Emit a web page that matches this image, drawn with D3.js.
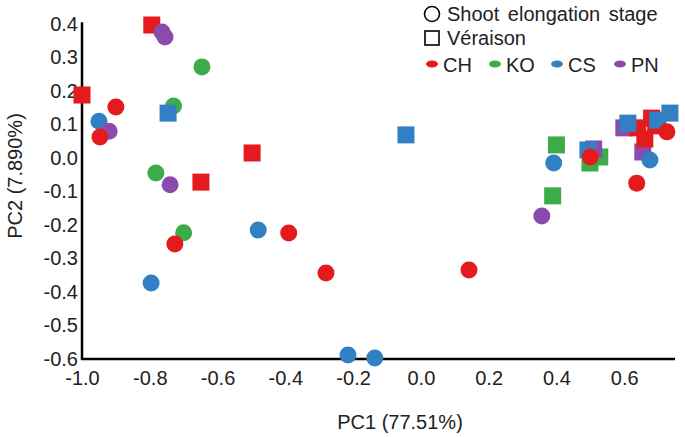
<!DOCTYPE html>
<html>
<head>
<meta charset="utf-8">
<script src="https://cdn.jsdelivr.net/npm/d3@7"></script>
<style>
  body { margin: 0; background: #fff; }
  svg { font-family: "Liberation Sans", Arial, sans-serif; }
</style>
</head>
<body>
<svg id="canvas"></svg>
<script>
"use strict";

// cultivars and colours
const cultivars = ['CH', 'KO', 'CS', 'PN'];
const colors = { CH: '#E41A1C', KO: '#3EAB4B', CS: '#3280C3', PN: '#8B4BAD' };

// shoot elongation stage (circles), [PC1, PC2]
const shootCH = [[-0.90, 0.152], [-0.947, 0.063], [-0.726, -0.257], [-0.39, -0.224], [-0.28, -0.343],
                 [0.142, -0.334], [0.50, 0.003], [0.637, -0.075], [0.726, 0.078]];
const shootKO = [[-0.646, 0.272], [-0.73, 0.155], [-0.782, -0.045], [-0.70, -0.223]];
const shootCS = [[-0.95, 0.11], [-0.48, -0.215], [-0.796, -0.373], [-0.215, -0.588], [-0.136, -0.597],
                 [0.392, -0.015], [0.676, -0.006]];
const shootPN = [[-0.764, 0.376], [-0.755, 0.361], [-0.92, 0.08], [-0.74, -0.08], [0.357, -0.173]];

// veraison (squares)
const verCH = [[-1.0, 0.188], [-0.794, 0.397], [-0.498, 0.015], [-0.649, -0.072],
               [0.640, 0.090], [0.661, 0.057], [0.681, 0.119], [0.693, 0.096]];
const verKO = [[0.40, 0.039], [0.389, -0.113], [0.528, 0.003], [0.499, -0.015]];
const verCS = [[-0.746, 0.134], [-0.044, 0.069], [0.493, 0.024], [0.611, 0.104], [0.699, 0.113], [0.735, 0.134]];
const verPN = [[0.510, 0.027], [0.655, 0.018], [0.599, 0.09]];

const xTicks = [-1.0, -0.8, -0.6, -0.4, -0.2, 0.0, 0.2, 0.4, 0.6];
const yTicks = [0.4, 0.3, 0.2, 0.1, 0.0, -0.1, -0.2, -0.3, -0.4, -0.5, -0.6];

let width = 685;
let height = 437;

let canvas = d3.select('#canvas')
    .attr('width', width)
    .attr('height', height);

let xScale = d3.scaleLinear()
    .domain([-1.0, 0.75])
    .range([82, 675]);

let yScale = d3.scaleLinear()
    .domain([-0.6, 0.4])
    .range([359, 24]);

// draw order matters where markers overlap
const layers = [
    { shape: 'circle', cult: 'KO', pts: shootKO },
    { shape: 'square', cult: 'KO', pts: verKO },
    { shape: 'square', cult: 'PN', pts: verPN },
    { shape: 'square', cult: 'CH', pts: verCH },
    { shape: 'square', cult: 'CS', pts: verCS },
    { shape: 'circle', cult: 'CS', pts: shootCS },
    { shape: 'circle', cult: 'PN', pts: shootPN },
    { shape: 'circle', cult: 'CH', pts: shootCH }
];

// plain hyphen, like the original
const fmt = (d) => d.toFixed(1);

const drawAxes = () => {
    let xAxis = d3.axisBottom(xScale)
        .tickValues(xTicks)
        .tickFormat(fmt)
        .tickSize(0)
        .tickPadding(12);

    let yAxis = d3.axisLeft(yScale)
        .tickValues(yTicks)
        .tickFormat(fmt)
        .tickSize(0)
        .tickPadding(4);

    let gx = canvas.append('g')
        .attr('transform', 'translate(0, ' + yScale(-0.6) + ')')
        .call(xAxis);
    let gy = canvas.append('g')
        .attr('transform', 'translate(' + xScale(-1.0) + ', 0)')
        .call(yAxis);

    [gx, gy].forEach((g) => {
        g.select('.domain').remove();
        g.selectAll('text')
            .attr('fill', '#222')
            .style('font-size', '20px')
            .style('font-family', '"Liberation Sans", Arial, sans-serif');
    });

    canvas.append('line')
        .attr('x1', xScale(-1.0)).attr('x2', xScale(-1.0))
        .attr('y1', yScale(0.405)).attr('y2', yScale(-0.6) + 1)
        .attr('stroke', '#000').attr('stroke-width', 2.5);
    canvas.append('line')
        .attr('x1', xScale(-1.0) - 1).attr('x2', xScale(0.75))
        .attr('y1', yScale(-0.6)).attr('y2', yScale(-0.6))
        .attr('stroke', '#000').attr('stroke-width', 2.5);

    canvas.append('text')
        .attr('x', 400)
        .attr('y', 429)
        .attr('text-anchor', 'middle')
        .style('font-size', '20px')
        .attr('fill', '#222')
        .text('PC1 (77.51%)');

    canvas.append('text')
        .attr('transform', 'translate(22, 176) rotate(-90)')
        .attr('text-anchor', 'middle')
        .style('font-size', '20px')
        .attr('fill', '#222')
        .text('PC2 (7.890%)');
};

const drawPoints = () => {
    let r = 8.5;
    layers.forEach((layer) => {
        let g = canvas.append('g');
        if (layer.shape === 'circle') {
            g.selectAll('circle')
                .data(layer.pts)
                .enter()
                .append('circle')
                .attr('cx', (d) => xScale(d[0]))
                .attr('cy', (d) => yScale(d[1]))
                .attr('r', r)
                .attr('fill', colors[layer.cult]);
        } else {
            g.selectAll('rect')
                .data(layer.pts)
                .enter()
                .append('rect')
                .attr('x', (d) => xScale(d[0]) - r)
                .attr('y', (d) => yScale(d[1]) - r)
                .attr('width', 2 * r)
                .attr('height', 2 * r)
                .attr('fill', colors[layer.cult]);
        }
    });
};

const drawLegend = () => {
    let lg = canvas.append('g');
    lg.append('circle')
        .attr('cx', 432).attr('cy', 14).attr('r', 7.5)
        .attr('fill', 'none').attr('stroke', '#000').attr('stroke-width', 1.6);
    lg.append('text')
        .attr('x', 447).attr('y', 21)
        .style('font-size', '20px')
        .style('word-spacing', '3px')
        .attr('fill', '#222')
        .text('Shoot elongation stage');
    lg.append('rect')
        .attr('x', 425).attr('y', 31).attr('width', 14).attr('height', 14)
        .attr('fill', 'none').attr('stroke', '#000').attr('stroke-width', 1.6);
    lg.append('text')
        .attr('x', 447).attr('y', 45)
        .style('font-size', '20px')
        .attr('fill', '#222')
        .text('Véraison');

    let xs = [432, 495, 557, 620];
    cultivars.forEach((c, i) => {
        lg.append('ellipse')
            .attr('cx', xs[i]).attr('cy', 64).attr('rx', 6).attr('ry', 3.5)
            .attr('fill', colors[c]);
        lg.append('text')
            .attr('x', xs[i] + 11).attr('y', 72)
            .style('font-size', '20px')
            .attr('fill', '#222')
            .text(c);
    });
};

drawAxes();
drawPoints();
drawLegend();
</script>
</body>
</html>
